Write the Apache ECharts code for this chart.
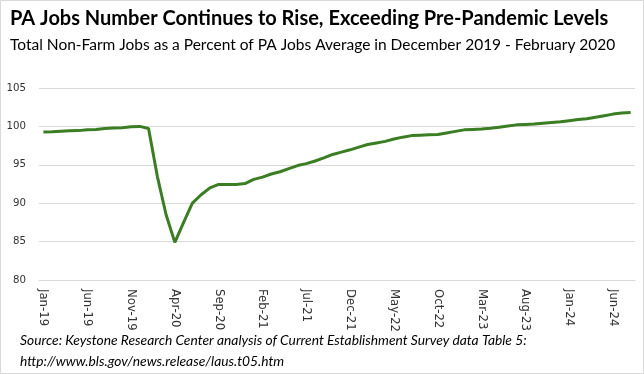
<!DOCTYPE html>
<html>
<head>
<meta charset="utf-8">
<script src="https://cdn.jsdelivr.net/npm/echarts@6/dist/echarts.min.js"></script>
<style>
html,body{margin:0;padding:0;background:#fff;}
#chart{width:644px;height:374px;}
</style>
</head>
<body>
<div id="chart"></div>
<script>
const monthNames = ['Jan','Feb','Mar','Apr','May','Jun','Jul','Aug','Sep','Oct','Nov','Dec'];
const startYear = 19;
const monthCount = 68; // Jan-19 .. Aug-24
const categories = [];
for (let i = 0; i < monthCount; i++) {
  categories.push(monthNames[i % 12] + '-' + (startYear + Math.floor(i / 12)));
}
const jobsPercent = [
  99.27, 99.3, 99.38, 99.42, 99.45, 99.55, 99.6, 99.72, 99.78, 99.82, 99.95, 100.0,
  99.72, 93.5, 88.5, 84.9, 87.5, 90.0, 91.1, 92.0, 92.45, 92.45, 92.45, 92.55,
  93.1, 93.4, 93.8, 94.1, 94.5, 94.9, 95.15, 95.5, 95.9, 96.35, 96.65, 96.95,
  97.3, 97.65, 97.85, 98.05, 98.35, 98.6, 98.8, 98.85, 98.9, 98.95, 99.15, 99.35,
  99.55, 99.6, 99.65, 99.75, 99.9, 100.05, 100.2, 100.25, 100.3, 100.4, 100.5, 100.6,
  100.75, 100.9, 101.0, 101.2, 101.4, 101.6, 101.75, 101.8
];
const yTicks = { min: 80, max: 105, interval: 5 };
const titleText = 'PA Jobs Number Continues to Rise, Exceeding Pre-Pandemic Levels';
const subtitleText = 'Total Non-Farm Jobs as a Percent of PA Jobs Average in December 2019 - February 2020';
const sourceLines = [
  'Source: Keystone Research Center analysis of Current Establishment Survey data Table 5:',
  'http://www.bls.gov/news.release/laus.t05.htm'
];

const chart = echarts.init(document.getElementById('chart'), null, {renderer: 'canvas'});
chart.setOption({
  animation: false,
  backgroundColor: '#ffffff',
  graphic: [
    {type: 'rect', shape: {x: 0.5, y: 0.5, width: 643, height: 373}, style: {fill: 'none', stroke: '#d9d9d9', lineWidth: 1}, silent: true},
    {type: 'text', left: 10, top: 9, style: {text: titleText, font: 'bold 20px Lato', fill: '#000'}},
    {type: 'text', left: 10, top: 37, style: {text: subtitleText, font: '15.5px Lato', fill: '#000'}},
    {type: 'text', left: 20, top: 334, style: {text: sourceLines[0], font: 'italic 13.8px Lato', fill: '#000'}},
    {type: 'text', left: 20, top: 355, style: {text: sourceLines[1], font: 'italic 13.8px Lato', fill: '#000'}}
  ],
  grid: {left: 39, right: 9, top: 88, bottom: 94, containLabel: false},
  xAxis: {
    type: 'category',
    data: categories,
    boundaryGap: true,
    axisLine: {lineStyle: {color: '#d9d9d9', width: 1}},
    axisTick: {interval: 4, length: 5, lineStyle: {color: '#d9d9d9'}},
    axisLabel: {interval: 4, rotate: -90, margin: 9, color: '#333333', fontFamily: 'DejaVu Sans', fontSize: 11.7}
  },
  yAxis: {
    type: 'value',
    min: yTicks.min, max: yTicks.max, interval: yTicks.interval,
    axisLine: {show: false},
    axisTick: {show: false},
    splitLine: {lineStyle: {color: '#d9d9d9', width: 1}},
    axisLabel: {margin: 13, color: '#333333', fontFamily: 'DejaVu Sans', fontSize: 10.2}
  },
  series: [{
    type: 'line',
    data: jobsPercent,
    showSymbol: false,
    symbol: 'none',
    lineStyle: {color: '#3A7D22', width: 3},
    itemStyle: {color: '#3A7D22'}
  }]
});
</script>
</body>
</html>
